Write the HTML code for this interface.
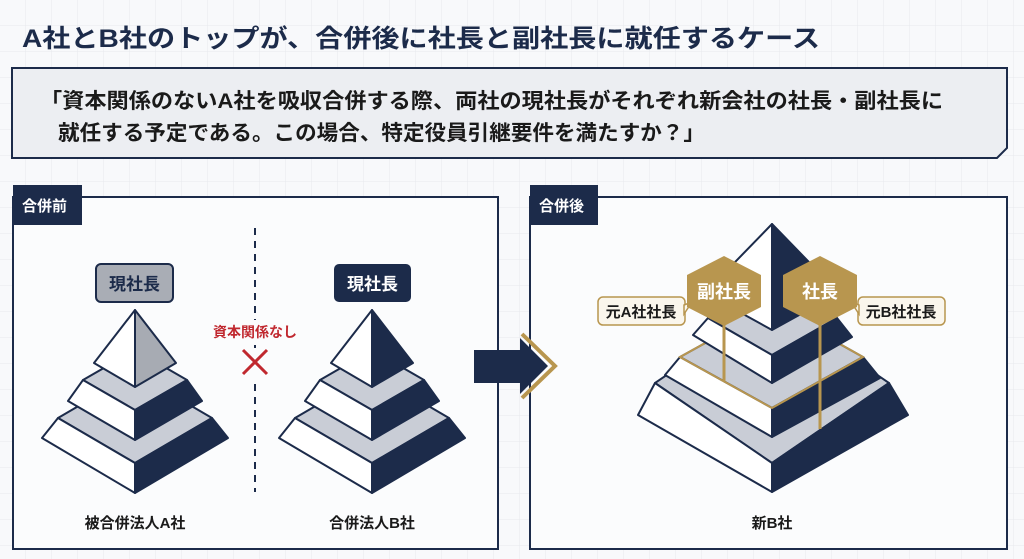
<!DOCTYPE html>
<html><head><meta charset="utf-8"><style>
html,body{margin:0;padding:0;width:1024px;height:559px;overflow:hidden;background:#f8f9fb}
svg{display:block}
text{font-family:"Liberation Sans","Noto Sans CJK JP",sans-serif;font-weight:bold}
</style></head><body>
<svg width="1024" height="559" viewBox="0 0 1024 559" xmlns="http://www.w3.org/2000/svg">
<defs>
<pattern id="g" width="26" height="26" patternUnits="userSpaceOnUse">
<path d="M26 0V26M0 26H26" fill="none" stroke="#e7e9ee" stroke-width="1"/>
</pattern>
</defs>
<rect width="1024" height="559" fill="#f8f9fb"/>
<rect width="1024" height="559" fill="url(#g)"/>

<text x="22" y="47" font-size="25" fill="#1c2b4a" textLength="798" lengthAdjust="spacingAndGlyphs">A社とB社のトップが、合併後に社長と副社長に就任するケース</text>

<polygon points="12,68 1007,68 1007,148 997,158 12,158" fill="#eceef2" stroke="#1c2b4a" stroke-width="2"/>
<text x="40" y="108" font-size="21" fill="#1a1a1a" textLength="903" lengthAdjust="spacingAndGlyphs">「資本関係のないA社を吸収合併する際、両社の現社長がそれぞれ新会社の社長・副社長に</text>
<text x="58" y="140" font-size="21" fill="#1a1a1a" textLength="647" lengthAdjust="spacingAndGlyphs">就任する予定である。この場合、特定役員引継要件を満たすか？」</text>

<rect x="13" y="197" width="485" height="352" fill="#fbfcfd" stroke="#1c2b4a" stroke-width="2"/>
<rect x="13" y="185" width="69" height="40" fill="#1c2b4a"/>
<text x="22" y="211" font-size="15" fill="#fff">合併前</text>
<line x1="255" y1="228" x2="255" y2="492" stroke="#1c2b4a" stroke-width="2" stroke-dasharray="7,6"/>

<g stroke="#1c2b4a" stroke-width="2" stroke-linejoin="round">
<polygon points="58,418 135,373 212,418 135,463" fill="#c9cdd6"/>
<polygon points="58,418 135,463 135,493 42,438" fill="#fff"/>
<polygon points="212,418 135,463 135,493 228,438" fill="#1c2b4a"/>
<polygon points="83,380 135,350 187,380 135,410" fill="#c9cdd6"/>
<polygon points="83,380 135,410 135,440 68,401" fill="#fff"/>
<polygon points="187,380 135,410 135,440 202,401" fill="#1c2b4a"/>
<polygon points="135,310 94,363 135,387" fill="#fff"/>
<polygon points="135,310 176,363 135,387" fill="#a7abb3"/>
</g>

<g stroke="#1c2b4a" stroke-width="2" stroke-linejoin="round">
<polygon points="295,418 372,373 449,418 372,463" fill="#c9cdd6"/>
<polygon points="295,418 372,463 372,493 279,438" fill="#fff"/>
<polygon points="449,418 372,463 372,493 465,438" fill="#1c2b4a"/>
<polygon points="320,380 372,350 424,380 372,410" fill="#c9cdd6"/>
<polygon points="320,380 372,410 372,440 305,401" fill="#fff"/>
<polygon points="424,380 372,410 372,440 439,401" fill="#1c2b4a"/>
<polygon points="372,310 331,363 372,387" fill="#fff"/>
<polygon points="372,310 413,363 372,387" fill="#1c2b4a"/>
</g>

<rect x="96" y="264" width="77" height="38" rx="5" fill="#a9adb5" stroke="#1c2b4a" stroke-width="2"/>
<text x="134.5" y="290" font-size="17" fill="#1c2b4a" text-anchor="middle">現社長</text>
<rect x="334" y="264" width="77" height="38" rx="5" fill="#1c2b4a"/>
<text x="372.5" y="290" font-size="17" fill="#fff" text-anchor="middle">現社長</text>

<rect x="205" y="320" width="100" height="20" fill="#fbfcfd"/>
<text x="255" y="337" font-size="14" fill="#c0282f" text-anchor="middle">資本関係なし</text>
<rect x="240" y="348" width="30" height="30" fill="#fbfcfd"/>
<path d="M243 350L267 374M267 350L243 374" stroke="#c0282f" stroke-width="3"/>

<text x="135" y="528" font-size="15" fill="#1a1a1a" text-anchor="middle">被合併法人A社</text>
<text x="372" y="528" font-size="15" fill="#1a1a1a" text-anchor="middle">合併法人B社</text>

<rect x="530" y="197" width="477" height="352" fill="#fbfcfd" stroke="#1c2b4a" stroke-width="2"/>
<rect x="530" y="185" width="68" height="40" fill="#1c2b4a"/>
<text x="539" y="211" font-size="15" fill="#fff">合併後</text>

<polygon points="474,350 520,350 520,338 548,366 520,394 520,383 474,383" fill="#1c2b4a"/>
<polyline points="522,334 555,366 522,398" fill="none" stroke="#b8964f" stroke-width="4"/>

<g stroke="#1c2b4a" stroke-width="2" stroke-linejoin="round">
<polygon points="655,383 772,303 889,383 772,463" fill="#c9cdd6"/>
<polygon points="655,383 772,463 772,492 638,415" fill="#fff"/>
<polygon points="889,383 772,463 772,492 908,415" fill="#1c2b4a"/>
<polygon points="680,357 772,306 863,357 772,408" fill="#c9cdd6"/>
<polygon points="680,357 772,408 772,437 665,375" fill="#fff"/>
<polygon points="863,357 772,408 772,437 880,378" fill="#1c2b4a"/>
</g>
<polygon points="680,357 772,306 863,357 772,408" fill="none" stroke="#b8964f" stroke-width="2"/>
<g stroke="#1c2b4a" stroke-width="2" stroke-linejoin="round">
<polygon points="708,318 772,281 837,318 772,355" fill="#c9cdd6"/>
<polygon points="708,318 772,355 772,383 693,335" fill="#fff"/>
<polygon points="837,318 772,355 772,383 852,337" fill="#1c2b4a"/>
<polygon points="772,224 705,293 772,330" fill="#fff"/>
<polygon points="772,224 839,293 772,330" fill="#1c2b4a"/>
</g>

<line x1="724" y1="320" x2="724" y2="382" stroke="#b8964f" stroke-width="3"/>
<line x1="820" y1="320" x2="820" y2="429" stroke="#b8964f" stroke-width="3"/>

<rect x="598" y="297" width="87" height="28" rx="5" fill="#faf6ec" stroke="#b8964f" stroke-width="1.5"/>
<polygon points="684,305 692,302 684,314" fill="#faf6ec" stroke="#b8964f" stroke-width="1.5"/>
<text x="641" y="317" font-size="15" fill="#1a1a1a" text-anchor="middle">元A社社長</text>
<rect x="858" y="297" width="87" height="28" rx="5" fill="#faf6ec" stroke="#b8964f" stroke-width="1.5"/>
<polygon points="859,305 851,302 859,314" fill="#faf6ec" stroke="#b8964f" stroke-width="1.5"/>
<text x="901" y="317" font-size="15" fill="#1a1a1a" text-anchor="middle">元B社社長</text>

<polygon points="724,256 761,275 761,307 724,326 687,307 687,275" fill="#b8964f"/>
<text x="724" y="298" font-size="18" fill="#fff" text-anchor="middle">副社長</text>
<polygon points="820,256 857,275 857,307 820,326 783,307 783,275" fill="#b8964f"/>
<text x="820" y="298" font-size="18" fill="#fff" text-anchor="middle">社長</text>

<text x="772" y="528" font-size="15" fill="#1a1a1a" text-anchor="middle">新B社</text>
</svg>
</body></html>
